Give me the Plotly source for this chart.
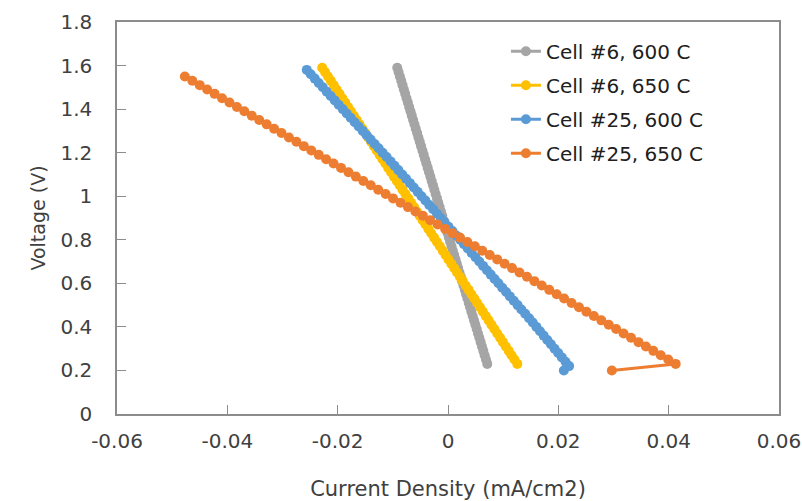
import plotly.graph_objects as go

# ---- data ----
v_cell6_600 = [1.59,1.57,1.55,1.53,1.51,1.49,1.47,1.45,1.43,1.41,1.39,1.37,1.35,1.33,1.31,1.29,1.27,1.25,1.23,1.21,
               1.19,1.17,1.15,1.13,1.11,1.09,1.07,1.05,1.03,1.01,0.99,0.97,0.95,0.93,0.91,0.89,0.87,0.85,0.83,0.81,
               0.79,0.77,0.75,0.73,0.71,0.69,0.67,0.65,0.63,0.61,0.59,0.57,0.55,0.53,0.51,0.49,0.47,0.45,0.43,0.41,
               0.39,0.37,0.35,0.33,0.31,0.29,0.27,0.25,0.23]
i_cell6_600 = [-0.0092,-0.00896,-0.00872,-0.00848,-0.00824,-0.0080,-0.00776,-0.00752,-0.00728,-0.00704,
               -0.0068,-0.00656,-0.00632,-0.00608,-0.00584,-0.0056,-0.00536,-0.00512,-0.00488,-0.00464,
               -0.0044,-0.00416,-0.00392,-0.00368,-0.00344,-0.0032,-0.00296,-0.00272,-0.00248,-0.00224,
               -0.0020,-0.00176,-0.00152,-0.00128,-0.00104,-0.0008,-0.00056,-0.00032,-0.00008,0.00016,
               0.0004,0.00064,0.00088,0.00112,0.00136,0.0016,0.00184,0.00208,0.00232,0.00256,
               0.0028,0.00304,0.00328,0.00352,0.00376,0.0040,0.00424,0.00448,0.00472,0.00496,
               0.0052,0.00544,0.00568,0.00592,0.00616,0.0064,0.00664,0.00688,0.00712]

v_cell6_650 = list(v_cell6_600)
i_cell6_650 = [-0.0228,-0.02228,-0.02176,-0.02124,-0.02072,-0.0202,-0.01968,-0.01916,-0.01864,-0.01812,
               -0.0176,-0.01708,-0.01656,-0.01604,-0.01552,-0.0150,-0.01448,-0.01396,-0.01344,-0.01292,
               -0.0124,-0.01188,-0.01136,-0.01084,-0.01032,-0.0098,-0.00928,-0.00876,-0.00824,-0.00772,
               -0.0072,-0.00668,-0.00616,-0.00564,-0.00512,-0.0046,-0.00408,-0.00356,-0.00304,-0.00252,
               -0.0020,-0.00148,-0.00096,-0.00044,0.00008,0.0006,0.00112,0.00164,0.00216,0.00268,
               0.0032,0.00372,0.00424,0.00476,0.00528,0.0058,0.00632,0.00684,0.00736,0.00788,
               0.0084,0.00892,0.00944,0.00996,0.01048,0.0110,0.01152,0.01204,0.01256]

v_cell25_600 = [1.58,1.56,1.54,1.52,1.50,1.48,1.46,1.44,1.42,1.40,1.38,1.36,1.34,1.32,1.30,1.28,1.26,1.24,1.22,1.20,
                1.18,1.16,1.14,1.12,1.10,1.08,1.06,1.04,1.02,1.00,0.98,0.96,0.94,0.92,0.90,0.88,0.86,0.84,0.82,0.80,
                0.78,0.76,0.74,0.72,0.70,0.68,0.66,0.64,0.62,0.60,0.58,0.56,0.54,0.52,0.50,0.48,0.46,0.44,
                0.42,0.40,0.38,0.36,0.34,0.32,0.30,0.28,0.26,0.24,0.22,0.20]
i_cell25_600 = [-0.0256,-0.02488,-0.02415,-0.02343,-0.0227,-0.02198,-0.02126,-0.02053,-0.01981,-0.01908,
                -0.01836,-0.01764,-0.01691,-0.01619,-0.01546,-0.01474,-0.01402,-0.01329,-0.01257,-0.01184,
                -0.01112,-0.0104,
                -0.0097,-0.0090,-0.0083,-0.0076,-0.0069,-0.0062,-0.0055,-0.0048,-0.0041,-0.0034,
                -0.0027,-0.0020,-0.0013,-0.0006,0.0001,0.0008,0.0015,0.0022,
                0.00289,0.00359,0.00428,0.00498,0.00567,0.00636,0.00706,0.00775,0.00845,0.00914,
                0.00983,0.01053,0.01122,0.01192,0.01261,0.0133,0.0140,0.0147,
                0.01536,0.01602,0.01668,0.01734,0.0180,0.01866,0.01932,0.01998,0.02064,0.0213,0.02196,
                0.0210]

v_cell25_650 = [1.55,1.53,1.51,1.49,1.47,1.45,1.43,1.41,1.39,1.37,1.35,1.33,1.31,1.29,1.27,1.25,1.23,1.21,
                1.19,1.17,1.15,1.13,1.11,1.09,1.07,1.05,1.03,1.01,0.99,0.97,0.95,0.93,0.91,0.89,0.87,0.85,0.83,0.81,
                0.79,0.77,0.75,0.73,0.71,0.69,0.67,0.65,0.63,0.61,0.59,0.57,0.55,0.53,0.51,0.49,0.47,0.45,0.43,0.41,
                0.39,0.37,0.35,0.33,0.31,0.29,0.27,0.25,0.23,0.20]
i_cell25_650 = [-0.0477,-0.04635,-0.0450,-0.04366,-0.04231,-0.04096,-0.03961,-0.03826,-0.03692,-0.03557,
                -0.03422,-0.03287,-0.03152,-0.03018,-0.02883,-0.02748,-0.02613,-0.02478,-0.02344,-0.02209,
                -0.02074,-0.01939,-0.01804,-0.0167,-0.01535,-0.0140,-0.01265,-0.0113,-0.00996,-0.00861,
                -0.00726,-0.00591,-0.00456,-0.00322,-0.00187,-0.00052,0.00083,0.00218,0.00352,0.00487,
                0.00622,0.00757,0.00892,0.01026,0.01161,0.01296,0.01431,0.01566,0.0170,0.01835,
                0.0197,0.02105,0.0224,0.02374,0.02509,0.02644,0.02779,0.02914,0.03048,0.03183,
                0.03318,0.03453,0.03588,0.03722,0.03857,0.03992,0.04127,
                0.0297]

series_names = ["Cell #6, 600 C", "Cell #6, 650 C", "Cell #25, 600 C", "Cell #25, 650 C"]
series_x = [i_cell6_600, i_cell6_650, i_cell25_600, i_cell25_650]
series_y = [v_cell6_600, v_cell6_650, v_cell25_600, v_cell25_650]
series_colors = ["#A5A5A5", "#FFC000", "#5B9BD5", "#ED7D31"]

x_tickvals = [-0.06, -0.04, -0.02, 0, 0.02, 0.04, 0.06]
x_ticktext = ["-0.06", "-0.04", "-0.02", "0", "0.02", "0.04", "0.06"]
y_tickvals = [0, 0.2, 0.4, 0.6, 0.8, 1.0, 1.2, 1.4, 1.6, 1.8]
y_ticktext = ["0", "0.2", "0.4", "0.6", "0.8", "1", "1.2", "1.4", "1.6", "1.8"]

FONT = "DejaVu Sans"
TXT = "#404040"

fig = go.Figure()
for name, xs, ys, col in zip(series_names, series_x, series_y, series_colors):
    fig.add_trace(go.Scatter(
        x=xs, y=ys, name=name, mode="lines+markers",
        line=dict(color=col, width=3),
        marker=dict(color=col, size=10),
        legendgroup=name,
    ))

axis_common = dict(
    showline=True, linecolor="#8C8C8C", linewidth=1.5, mirror=True,
    ticks="inside", ticklen=9, tickcolor="#8C8C8C", tickwidth=1.3,
    showgrid=False, zeroline=False, automargin=False,
    tickfont=dict(family=FONT, size=20, color=TXT),
)

fig.update_layout(
    width=802, height=501,
    margin=dict(l=117, r=23, t=22, b=87),
    paper_bgcolor="white", plot_bgcolor="white",
    font=dict(family=FONT, color=TXT),
    xaxis=dict(range=[-0.06, 0.06], tickvals=x_tickvals, ticktext=x_ticktext,
               ticklabelstandoff=8,
               title=dict(text="Current Density (mA/cm2)", font=dict(family=FONT, size=21, color=TXT), standoff=30),
               **axis_common),
    yaxis=dict(range=[0, 1.8], tickvals=y_tickvals, ticktext=y_ticktext,
               ticklabelstandoff=19,
               title=dict(text="Voltage (V)", font=dict(family=FONT, size=19, color=TXT), standoff=10),
               **axis_common),
    legend=dict(x=0.5875, y=0.975, xanchor="left", yanchor="top",
                font=dict(family=FONT, size=20, color="#202020"),
                bgcolor="rgba(0,0,0,0)", tracegroupgap=5),
    showlegend=True,
)

fig.write_html("out.html")
